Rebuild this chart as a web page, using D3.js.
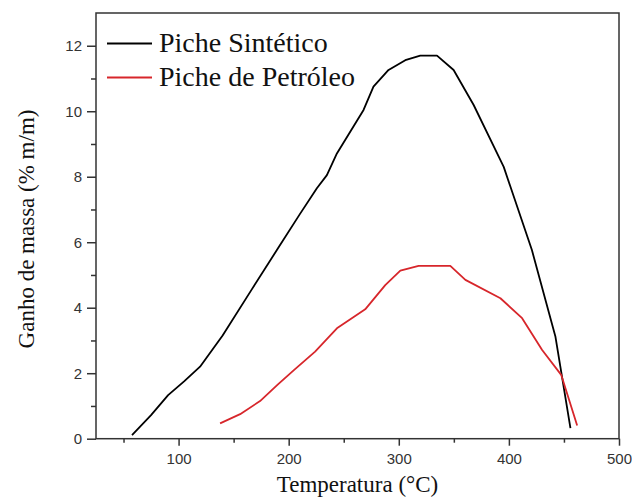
<!DOCTYPE html>
<html lang="pt">
<head>
<meta charset="UTF-8">
<title>Ganho de massa x Temperatura</title>
<style>
  body { margin: 0; background: #fff; }
  svg { display: block; }
</style>
</head>
<body>
<div id="chart"></div>
<script src="https://d3js.org/d3.v7.min.js"></script>
<script>
// Piche Sintético
const tempSint = [57.7, 75, 90.5, 105, 119.5, 140, 166.5, 190, 210, 225.6, 234.7, 243.8, 268, 277, 290.7, 305.9, 319.5, 334.7, 349.8, 368, 395.3, 420.9, 442.3, 455.9];
const ganhoSint = [0.11, 0.72, 1.33, 1.75, 2.2, 3.15, 4.56, 5.8, 6.85, 7.65, 8.05, 8.71, 10.04, 10.75, 11.26, 11.56, 11.7, 11.7, 11.26, 10.19, 8.3, 5.76, 3.11, 0.32];

// Piche de Petróleo
const tempPet = [137.7, 155.9, 174, 190, 205, 224, 243.8, 269.5, 287.7, 301.4, 318, 346.8, 360.5, 392.3, 412, 430.2, 447.5, 462];
const ganhoPet = [0.47, 0.75, 1.15, 1.65, 2.1, 2.66, 3.37, 3.95, 4.69, 5.13, 5.28, 5.28, 4.85, 4.29, 3.68, 2.71, 1.95, 0.4];

const seriesNames = ["Piche Sintético", "Piche de Petróleo"];
const seriesColors = ["#000000", "#d7262b"];

const xTicks = [100, 200, 300, 400, 500];
const xMinor = [50, 150, 250, 350, 450];
const yTicks = [0, 2, 4, 6, 8, 10, 12];
const yMinor = [1, 3, 5, 7, 9, 11];

const margin = { top: 13, right: 23, bottom: 64.3, left: 96 },
    W = 642, H = 503,
    width = W - margin.left - margin.right,
    height = H - margin.top - margin.bottom;

const svg = d3.select("#chart").append("svg")
    .attr("width", 632)
    .attr("height", H);

const g = svg.append("g")
    .attr("transform", `translate(${margin.left},${margin.top})`);

const x = d3.scaleLinear().domain([25, 500]).range([0, width]);
const y = d3.scaleLinear().domain([0, 13]).range([height, 0]);

const axisColor = "#333";
const tickFont = "'Liberation Sans', Arial, sans-serif";
const serif = "'Liberation Serif', 'Times New Roman', serif";

// minor ticks
g.append("g")
    .attr("transform", `translate(0,${height})`)
    .call(d3.axisBottom(x).tickValues(xMinor).tickSize(4).tickFormat(""))
    .call(a => a.select(".domain").remove());
g.append("g")
    .call(d3.axisLeft(y).tickValues(yMinor).tickSize(5).tickFormat(""))
    .call(a => a.select(".domain").remove());

// major ticks
g.append("g")
    .attr("transform", `translate(0,${height})`)
    .call(d3.axisBottom(x).tickValues(xTicks).tickSize(7).tickPadding(8).tickSizeOuter(0))
    .call(a => a.select(".domain").remove())
    .selectAll("text").attr("font-size", 15).attr("font-family", tickFont).attr("fill", axisColor);
g.append("g")
    .call(d3.axisLeft(y).tickValues(yTicks).tickSize(9).tickPadding(5).tickSizeOuter(0))
    .call(a => a.select(".domain").remove())
    .selectAll("text").attr("font-size", 15).attr("font-family", tickFont).attr("fill", axisColor);

g.selectAll(".tick line").attr("stroke", axisColor).attr("stroke-width", 1.5);

// frame
g.append("rect")
    .attr("width", width)
    .attr("height", height)
    .attr("fill", "none")
    .attr("stroke", axisColor)
    .attr("stroke-width", 1.5);

// curves
const line = d3.line()
    .x(d => x(d[0]))
    .y(d => y(d[1]));

const dataSets = [
    d3.zip(tempSint, ganhoSint),
    d3.zip(tempPet, ganhoPet)
];

g.selectAll(".curve")
    .data(dataSets)
    .enter().append("path")
    .attr("class", "curve")
    .attr("fill", "none")
    .attr("stroke", (d, i) => seriesColors[i])
    .attr("stroke-width", 1.8)
    .attr("stroke-linejoin", "round")
    .attr("d", line);

// legend
const legend = svg.append("g").attr("transform", "translate(107,43.5)");
legend.selectAll("line")
    .data(seriesNames)
    .enter().append("line")
    .attr("x1", 0).attr("x2", 45)
    .attr("y1", (d, i) => i * 34).attr("y2", (d, i) => i * 34)
    .attr("stroke", (d, i) => seriesColors[i])
    .attr("stroke-width", 1.8);
legend.selectAll("text")
    .data(seriesNames)
    .enter().append("text")
    .attr("x", 52)
    .attr("y", (d, i) => i * 34 + 8.5)
    .attr("font-family", serif)
    .attr("font-size", 28)
    .attr("fill", "#111")
    .text(d => d);

// axis titles
svg.append("text")
    .attr("x", margin.left + width / 2)
    .attr("y", 492)
    .attr("text-anchor", "middle")
    .attr("font-family", serif)
    .attr("font-size", 23)
    .attr("fill", "#111")
    .text("Temperatura (°C)");

svg.append("text")
    .attr("transform", `translate(34,229) rotate(-90)`)
    .attr("text-anchor", "middle")
    .attr("font-family", serif)
    .attr("font-size", 23)
    .attr("fill", "#111")
    .text("Ganho de massa (% m/m)");
</script>
</body>
</html>
